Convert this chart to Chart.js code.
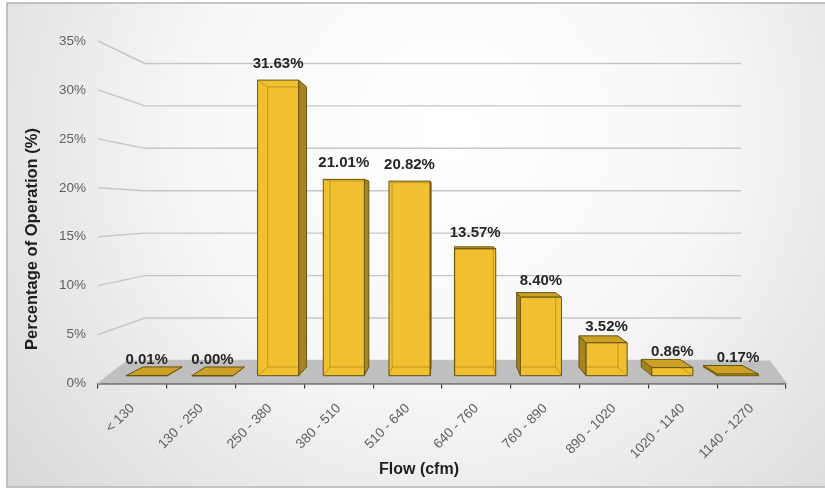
<!DOCTYPE html>
<html>
<head>
<meta charset="utf-8">
<script src="https://cdn.jsdelivr.net/npm/chart.js@4.4.0/dist/chart.umd.min.js"></script>
<style>
  html, body { margin: 0; padding: 0; background: #ffffff; }
  #wrap { width: 825px; height: 489px; position: relative; }
</style>
</head>
<body>
<div id="wrap"><canvas id="flowChart" width="825" height="489"></canvas></div>
<script>
// Share of operating time spent in each airflow bin
const flowBins = ['< 130', '130 - 250', '250 - 380', '380 - 510', '510 - 640',
                  '640 - 760', '760 - 890', '890 - 1020', '1020 - 1140', '1140 - 1270'];
const operationShare = [0.01, 0.00, 31.63, 21.01, 20.82, 13.57, 8.40, 3.52, 0.86, 0.17];
const percentTicks = [0, 5, 10, 15, 20, 25, 30, 35];

const FONT = '"Liberation Sans", Arial, sans-serif';

// Simple perspective used to give the bars and walls depth.
// Points from the chart's (front) plane are pulled toward a vanishing point.
const VIEW = { vx: 450, vy: 210, barFront: 0.955, barBack: 0.905, wall: 0.867 };
const FLOOR = { vx: 541, spread: 0.935 };
const COLORS = {
  front: '#f0c030', top: '#cca126', side: '#a4851f', edge: '#67530f',
  inner: 'rgba(140,105,10,0.45)', floor: '#bfbfbf', grid: '#c6c6c6',
  axis: '#3f3f3f', tick: '#5f5f5f', label: '#262626', title: '#1e1e1e'
};

function proj(x, y, f) {
  return [VIEW.vx + (x - VIEW.vx) * f, VIEW.vy + (y - VIEW.vy) * f];
}
function face(l, r, t, b, f) {
  const [L, T] = proj(l, t, f);
  const [R, B] = proj(r, b, f);
  return { l: L, r: R, t: T, b: B };
}
function poly(ctx, pts, fill, stroke) {
  ctx.beginPath();
  ctx.moveTo(pts[0][0], pts[0][1]);
  for (let i = 1; i < pts.length; i++) ctx.lineTo(pts[i][0], pts[i][1]);
  ctx.closePath();
  if (fill) { ctx.fillStyle = fill; ctx.fill(); }
  if (stroke) { ctx.strokeStyle = stroke; ctx.stroke(); }
}

// Background panel, back/side wall gridlines and the floor
const wallsAndFloor = {
  id: 'wallsAndFloor',
  beforeDraw(chart) {
    const { ctx, width, height } = chart;
    ctx.save();
    ctx.fillStyle = '#ffffff';
    ctx.fillRect(0, 0, width, height);
    const g = ctx.createRadialGradient(450, 130, 10, 450, 130, 560);
    g.addColorStop(0, '#ffffff');
    g.addColorStop(0.45, '#f7f7f7');
    g.addColorStop(1, '#d9d9d9');
    ctx.fillStyle = g;
    ctx.fillRect(7, 3, width, height - 5);
    ctx.strokeStyle = '#b3b3b3';
    ctx.lineWidth = 1.5;
    ctx.strokeRect(7, 3, width + 4, height - 5);
    ctx.restore();
  },
  beforeDatasetsDraw(chart) {
    const { ctx, chartArea: a, scales } = chart;
    const ys = scales.y;
    ctx.save();
    ctx.strokeStyle = COLORS.grid;
    ctx.lineWidth = 1.4;
    ys.ticks.forEach(t => {
      const py = ys.getPixelForValue(t.value);
      const [bx, by] = proj(a.left, py, VIEW.wall);
      const [ex] = proj(a.right, py, VIEW.wall);
      ctx.beginPath();
      ctx.moveTo(a.left, py);
      ctx.lineTo(bx, by);
      ctx.lineTo(ex, by);
      ctx.stroke();
    });
    // floor
    const backY = proj(a.left, a.bottom, VIEW.wall)[1];
    const bl = FLOOR.vx + (a.left - FLOOR.vx) * FLOOR.spread;
    const br = FLOOR.vx + (a.right - FLOOR.vx) * FLOOR.spread;
    poly(ctx, [[a.left - 1, a.bottom], [a.right + 1, a.bottom], [br, backY], [bl, backY]], COLORS.floor, null);
    ctx.restore();
  }
};

// Extruded bars built from each bar element's geometry, plus value labels
const bars3d = {
  id: 'bars3d',
  afterDatasetsDraw(chart) {
    const ctx = chart.ctx;
    const meta = chart.getDatasetMeta(0);
    const values = chart.data.datasets[0].data;
    ctx.save();
    ctx.lineWidth = 1;
    ctx.lineJoin = 'round';
    meta.data.forEach((el, i) => {
      const { x, y, base, width } = el.getProps(['x', 'y', 'base', 'width'], true);
      const l = x - width / 2, r = x + width / 2;
      const F = face(l, r, y, base, VIEW.barFront);
      const B = face(l, r, y, base, VIEW.barBack);

      // side face
      if (B.r > F.r) {
        poly(ctx, [[F.r, F.t], [B.r, B.t], [B.r, B.b], [F.r, F.b]], COLORS.side, COLORS.edge);
      } else if (B.l < F.l) {
        poly(ctx, [[F.l, F.t], [B.l, B.t], [B.l, B.b], [F.l, F.b]], COLORS.side, COLORS.edge);
      }
      // top face (seen from above when the bar is below eye level)
      if (F.t > B.t) {
        poly(ctx, [[F.l, F.t], [F.r, F.t], [B.r, B.t], [B.l, B.t]], COLORS.top, COLORS.edge);
      }
      // front face
      if (F.b - F.t > 0.5) {
        ctx.fillStyle = COLORS.front;
        ctx.fillRect(F.l, F.t, F.r - F.l, F.b - F.t);
        // hidden edges showing through the glassy front
        ctx.save();
        ctx.beginPath();
        ctx.rect(F.l, F.t, F.r - F.l, F.b - F.t);
        ctx.clip();
        ctx.strokeStyle = COLORS.inner;
        ctx.beginPath();
        ctx.rect(B.l, B.t, B.r - B.l, B.b - B.t);
        ctx.moveTo(F.l, F.t); ctx.lineTo(B.l, B.t);
        ctx.moveTo(F.r, F.t); ctx.lineTo(B.r, B.t);
        ctx.moveTo(F.l, F.b); ctx.lineTo(B.l, B.b);
        ctx.moveTo(F.r, F.b); ctx.lineTo(B.r, B.b);
        ctx.stroke();
        ctx.restore();
      }
      ctx.strokeStyle = COLORS.edge;
      ctx.strokeRect(F.l, F.t, F.r - F.l, F.b - F.t);

      // value label
      ctx.fillStyle = COLORS.label;
      ctx.font = 'bold 15px ' + FONT;
      ctx.textAlign = 'center';
      ctx.textBaseline = 'alphabetic';
      ctx.fillText(values[i].toFixed(2) + '%', (F.l + F.r) / 2, F.t - 12);
    });
    ctx.restore();
  },
  afterDraw(chart) {
    // axis titles
    const ctx = chart.ctx;
    ctx.save();
    ctx.fillStyle = COLORS.title;
    ctx.font = 'bold 16px ' + FONT;
    ctx.textAlign = 'center';
    ctx.textBaseline = 'middle';
    ctx.fillText('Flow (cfm)', 419, 470);
    ctx.translate(32, 239);
    ctx.rotate(-Math.PI / 2);
    ctx.font = 'bold 16.5px ' + FONT;
    ctx.fillText('Percentage of Operation (%)', 0, 0);
    ctx.restore();
  }
};

new Chart(document.getElementById('flowChart'), {
  type: 'bar',
  data: {
    labels: flowBins,
    datasets: [{
      label: 'Percentage of Operation (%)',
      data: operationShare,
      backgroundColor: 'rgba(0,0,0,0)',
      borderWidth: 0,
      barPercentage: 0.625,
      categoryPercentage: 1.0
    }]
  },
  options: {
    responsive: false,
    devicePixelRatio: 1,
    animation: false,
    layout: { padding: { left: 7, right: 39, top: 41, bottom: 0 } },
    plugins: { legend: { display: false }, tooltip: { enabled: false } },
    scales: {
      x: {
        z: 1,
        offset: true,
        grid: { display: true, offset: true, drawOnChartArea: false, drawTicks: true,
                tickLength: 5, color: COLORS.axis, lineWidth: 1.2 },
        border: { display: true, color: COLORS.axis, width: 1.6 },
        ticks: { minRotation: 45, maxRotation: 45, padding: 12, color: COLORS.tick,
                 font: { family: FONT, size: 13.5 } },
        afterFit(scale) { scale.height = 105.5; }
      },
      y: {
        min: 0,
        max: 35,
        afterBuildTicks(scale) { scale.ticks = percentTicks.map(v => ({ value: v })); },
        grid: { display: false, drawTicks: false },
        border: { display: false },
        ticks: { padding: 12, color: COLORS.tick, font: { family: FONT, size: 13.5 },
                 callback: v => v + '%' },
        afterFit(scale) { scale.width = 91; }
      }
    }
  },
  plugins: [wallsAndFloor, bars3d]
});
</script>
</body>
</html>
